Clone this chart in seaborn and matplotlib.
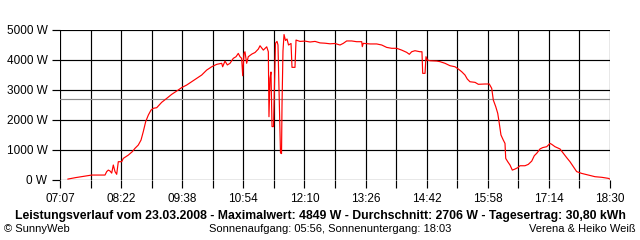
import numpy as np
import pandas as pd
import seaborn as sns
import matplotlib
matplotlib.use("Agg")
import matplotlib.pyplot as plt

# minutes since midnight
minutes = [436.6, 446.5, 460.2, 466.4, 482.9, 485.0, 487.0, 489.1, 491.2, 493.2, 495.3, 497.4,
           499.4, 503.6, 505.6, 511.8, 516.8, 520.1, 524.2, 527.6, 530.4, 533.4, 536.7, 540.0,
           542.9, 547.1, 553.3, 559.5, 565.7, 571.9, 578.1, 584.3, 590.5, 596.8, 603.0, 609.2,
           615.4, 621.6, 627.8, 629.0, 631.9, 634.8, 638.1, 642.2, 645.6, 648.4, 650.5, 652.6,
           653.9, 655.5, 656.7, 658.8, 660.8, 665.4, 669.2, 673.3, 675.4, 679.5, 683.7, 685.7,
           686.5, 687.8, 689.0, 690.3, 692.1, 693.4, 694.6, 696.5, 697.7, 699.0, 700.2, 700.8,
           702.1, 702.7, 703.9, 705.2, 707.0, 708.9, 710.8, 713.9, 715.1, 718.8, 720.1, 725.0,
           731.2, 737.5, 743.7, 749.9, 756.1, 762.3, 768.5, 774.7, 778.8, 783.0, 789.2, 795.4,
           801.7, 802.4, 803.6, 812.0, 820.3, 826.5, 832.7, 838.9, 845.1, 851.3, 857.5, 860.8,
           863.7, 867.8, 874.0, 876.5, 877.4, 880.3, 881.5, 883.1, 886.5, 894.8, 898.9, 905.1,
           911.3, 917.5, 921.6, 925.8, 929.9, 932.8, 936.1, 942.4, 946.5, 954.8, 960.1, 963.1,
           965.1, 968.1, 970.6, 972.2, 974.6, 977.5, 979.6, 980.5, 983.0, 985.8, 988.7, 992.0,
           995.4, 998.2, 1004.4, 1008.5, 1012.8, 1016.0, 1019.0, 1023.1, 1026.4, 1031.4, 1035.5,
           1037.6, 1041.7, 1047.9, 1052.0, 1056.2, 1060.3, 1064.4, 1068.6, 1074.8, 1083.0,
           1091.4, 1099.7, 1107.9, 1110.0]
watts = [30, 80, 140, 165, 165, 280, 330, 300, 230, 500, 280, 190,
         610, 610, 720, 830, 945, 1055, 1165, 1330, 1610, 1945, 2165, 2330,
         2390, 2410, 2590, 2720, 2855, 2965, 3080, 3165, 3275, 3390, 3500, 3665,
         3775, 3855, 3890, 3775, 3965, 3835, 3890, 4055, 4110, 4220, 4110, 4055,
         3475, 4220, 4275, 3890, 4110, 4200, 4250, 4365, 4475, 4330, 4440, 4275,
         2110, 3390, 3600, 1780, 1780, 3165, 4560, 4620, 4500, 3000, 1500, 900,
         880, 2500, 4300, 4849, 4650, 4700, 4500, 4550, 3755, 3755, 4665, 4620,
         4630, 4600, 4620, 4570, 4560, 4540, 4550, 4500, 4555, 4635, 4635, 4610,
         4610, 4445, 4555, 4535, 4535, 4500, 4420, 4390, 4390, 4330, 4255, 4190,
         4275, 4310, 4275, 4275, 3555, 3555, 4110, 4000, 3975, 3965, 3945, 3890,
         3810, 3775, 3700, 3610, 3500, 3365, 3275, 3255, 3190, 3200, 3200, 3055,
         2665, 2445, 2220, 1945, 1500, 1330, 1220, 720, 610, 500, 330, 365,
         410, 475, 475, 520, 630, 810, 890, 1035, 1080, 1110, 1220,
         1190, 1110, 1035, 890, 745, 610, 445, 280, 220, 165,
         110, 90, 55, 30]
average_w = 2706
x_start, x_end = 427, 1110
x_labels = ["07:07", "08:22", "09:38", "10:54", "12:10", "13:26", "14:42", "15:58", "17:14", "18:30"]
y_ticks = [0, 1000, 2000, 3000, 4000, 5000]
y_labels = ["0 W", "1000 W", "2000 W", "3000 W", "4000 W", "5000 W"]
title = "Leistungsverlauf vom 23.03.2008 - Maximalwert: 4849 W - Durchschnitt: 2706 W - Tagesertrag: 30,80 kWh"
footer_left = "© SunnyWeb"
footer_mid = "Sonnenaufgang: 05:56, Sonnenuntergang: 18:03"
footer_right = "Verena & Heiko Weiß"

sns.set_theme(style="white")
plt.rcParams['font.family'] = ['Liberation Sans Narrow', 'Liberation Sans', 'DejaVu Sans']

df = pd.DataFrame({"t": minutes, "w": watts})

fig = plt.figure(figsize=(6.4, 2.4), dpi=100)
fig.patch.set_facecolor("white")
ax = fig.add_axes([60/640, 1-180/240, 550/640, 150/240])
ax.set_facecolor("white")

xt = np.linspace(x_start, x_end, 19)
ax.set_xlim(x_start, x_end)
ax.set_ylim(0, 5000)
for v in xt:
    ax.axvline(v, color="black", lw=0.85, zorder=1)
for v in y_ticks:
    ax.axhline(v, color="black", lw=0.85, zorder=1)
ax.axhline(average_w, color="#8c8c8c", lw=0.85, zorder=2)

sns.lineplot(data=df, x="t", y="w", ax=ax, color="#ff0000", lw=0.85,
             zorder=3, legend=False)

ax.set_xticks(xt)
ax.set_xticklabels([x_labels[i // 2] if i % 2 == 0 else "" for i in range(19)])
ax.set_yticks(y_ticks)
ax.set_yticklabels(y_labels)
ax.tick_params(axis="both", which="both", length=6, width=0.85, color="black",
               labelsize=8.5, labelcolor="black", direction="out", pad=3,
               bottom=True, left=True)
ax.set_xlabel("")
ax.set_ylabel("")
for s in ax.spines.values():
    s.set_visible(False)

fig.text(320/640, 1-216/240, title, ha="center", va="center", fontsize=8.8,
         fontweight="bold", color="black")
fig.text(4/640, 1-229/240, footer_left, ha="left", va="center", fontsize=8, color="black")
fig.text(330/640, 1-229/240, footer_mid, ha="center", va="center", fontsize=8, color="black")
fig.text(636/640, 1-229/240, footer_right, ha="right", va="center", fontsize=8, color="black")

fig.savefig("out.png", dpi=100, facecolor="white")
